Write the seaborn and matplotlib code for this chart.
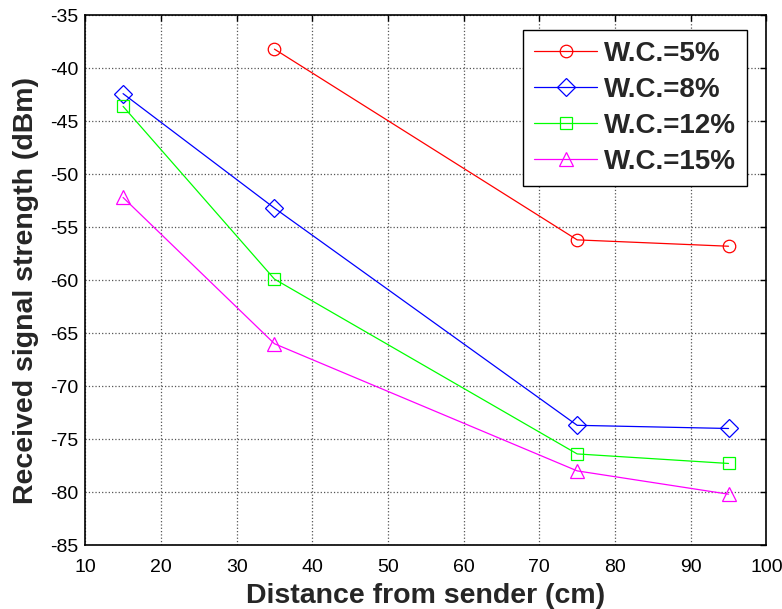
import matplotlib
matplotlib.use("Agg")
import matplotlib.pyplot as plt
import seaborn as sns
import pandas as pd

distance = [15, 35, 75, 95]
wc5 = [None, -38.2, -56.2, -56.8]
wc8 = [-42.4, -53.2, -73.7, -74.0]
wc12 = [-43.6, -59.9, -76.4, -77.3]
wc15 = [-52.2, -66.0, -78.0, -80.2]
labels = ["W.C.=5%", "W.C.=8%", "W.C.=12%", "W.C.=15%"]
x_ticks = list(range(10, 101, 10))
y_ticks = list(range(-85, -34, 5))

sns.set_style("white")
plt.rcParams['font.family'] = ['Liberation Sans', 'DejaVu Sans']
plt.rcParams['axes.unicode_minus'] = False

series = [wc5, wc8, wc12, wc15]
colors = ["#ff0000", "#0000ff", "#00ff00", "#ff00ff"]
markers = ["o", "D", "s", "^"]
msizes = [9, 9, 9, 10]

fig = plt.figure(figsize=(7.82, 6.09), dpi=100)
ax = fig.add_axes([0.109, 0.105, 0.871, 0.870])

for vals, lab, c, m, ms in zip(series, labels, colors, markers, msizes):
    df = pd.DataFrame({"x": distance, "y": vals}).dropna()
    sns.lineplot(data=df, x="x", y="y", ax=ax, color=c, marker=m, markersize=ms,
                 mfc="none", mec=c, mew=0.9, lw=0.9, label=lab)

ax.set_xlim(10, 100)
ax.set_ylim(-85, -35)
ax.set_xticks(x_ticks)
ax.set_yticks(y_ticks)
ax.grid(True, color="#555555", linestyle=":", linewidth=0.9)
ax.tick_params(direction="in", top=True, right=True, length=4, width=1,
               labelsize=14, colors="black")
ax.tick_params(axis="x", pad=10)
ax.tick_params(axis="y", pad=5)
for s in ax.spines.values():
    s.set_visible(True)
    s.set_color("black")
    s.set_linewidth(1.2)

ax.set_xlabel("Distance from sender (cm)", fontsize=20.5, fontweight="bold", labelpad=5)
ax.set_ylabel("Received signal strength (dBm)", fontsize=20.5, fontweight="bold")
ax.yaxis.set_label_coords(-0.068, 0.481)

leg = ax.legend(loc="upper right", bbox_to_anchor=(0.972, 0.972),
                prop={"weight": "bold", "size": 20}, frameon=True, fancybox=False,
                edgecolor="black", framealpha=1, handlelength=2.27, borderpad=0.4,
                labelspacing=0.36, handletextpad=0.25, borderaxespad=0)
leg.get_frame().set_linewidth(1.0)

fig.savefig("out.png", dpi=100)
